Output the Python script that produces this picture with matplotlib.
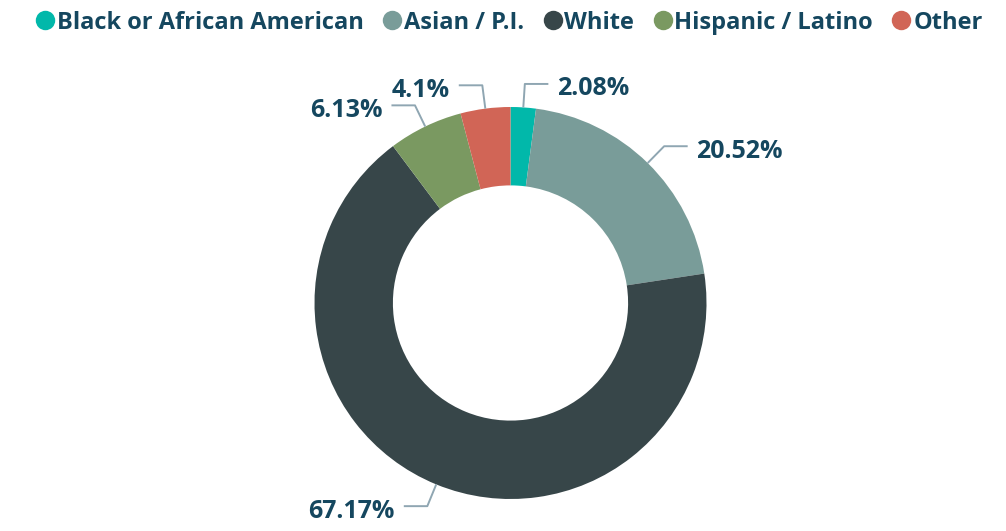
import matplotlib.pyplot as plt
from matplotlib.lines import Line2D
import numpy as np

plt.rcParams['font.family'] = ['Open Sans', 'DejaVu Sans']

groups = ['Black or African American', 'Asian / P.I.', 'White', 'Hispanic / Latino', 'Other']
shares = [2.08, 20.52, 67.17, 6.13, 4.1]
labels = ['2.08%', '20.52%', '67.17%', '6.13%', '4.1%']
colors = ['#01B8AA', '#799C99', '#374649', '#7A9961', '#D16556']

text_color = '#15475F'
leader_color = '#8FA6B2'

fig = plt.figure(figsize=(10.06, 5.31), dpi=100)
fig.patch.set_facecolor('white')

# pie axes centred on the donut
size_px = 392
ax = fig.add_axes([(510.5 - size_px / 2) / 1006, (531 - 303 - size_px / 2) / 531,
                   size_px / 1006, size_px / 531])
wedges, _ = ax.pie(shares, colors=colors, startangle=90, counterclock=False,
                   radius=1.0, wedgeprops=dict(width=0.4, edgecolor='none'))
ax.set_xlim(-1, 1)
ax.set_ylim(-1, 1)
ax.set_aspect('equal')

# leader lines + value labels
for w, lab in zip(wedges, labels):
    ang = np.deg2rad((w.theta1 + w.theta2) / 2)
    x0, y0 = np.cos(ang) * 1.0, np.sin(ang) * 1.0
    x1, y1 = np.cos(ang) * 1.12, np.sin(ang) * 1.12
    side = 1 if x1 >= 0 else -1
    x2 = x1 + side * 0.12
    ax.plot([x0, x1, x2], [y0, y1, y1], color=leader_color, lw=1.4,
            clip_on=False, solid_capstyle='butt')
    ax.text(x2 + side * 0.045, y1 - 0.025, lab, ha='left' if side > 0 else 'right',
            va='center', fontsize=18, fontweight='bold', color=text_color)

handles = [Line2D([], [], marker='o', linestyle='none', markersize=14,
                  markerfacecolor=c, markeredgecolor='none') for c in colors]
leg = fig.legend(handles, groups, loc='upper center', bbox_to_anchor=(0.505, 1.011),
                 ncol=5, frameon=False, handletextpad=0.0, columnspacing=0.7,
                 handlelength=1.0, borderaxespad=0.3,
                 prop=dict(size=17, weight='bold'))
for t in leg.get_texts():
    t.set_color(text_color)

fig.savefig('out.png', dpi=100, facecolor='white')
